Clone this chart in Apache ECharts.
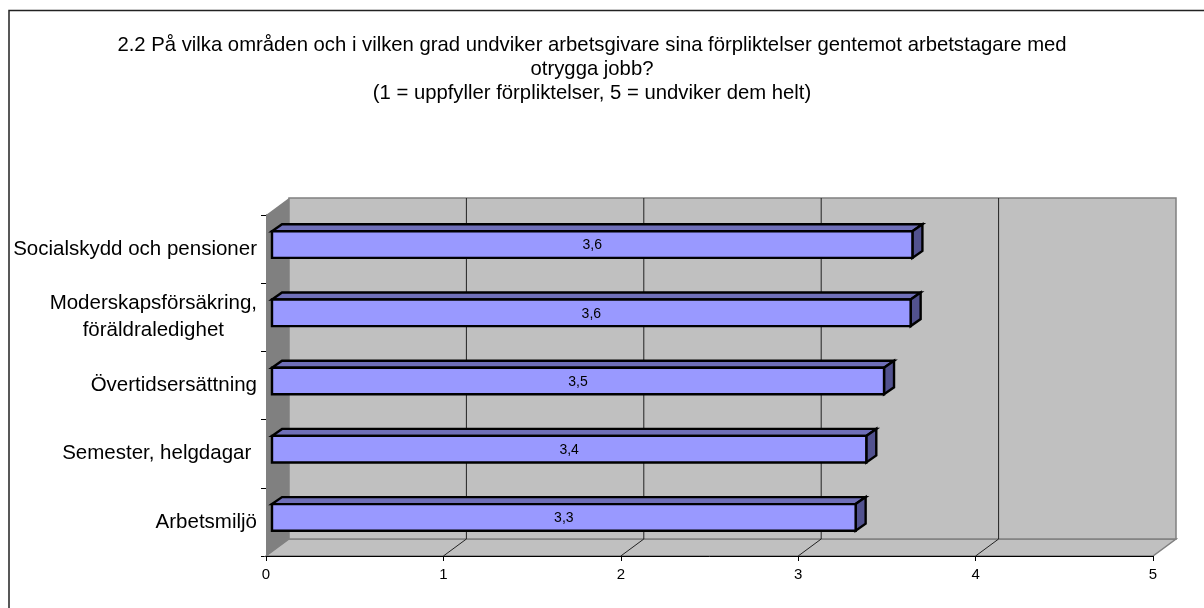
<!DOCTYPE html>
<html>
<head>
<meta charset="utf-8">
<style>
html, body { margin: 0; padding: 0; background: #fff; }
#main { width: 1204px; height: 608px; }
</style>
<script src="https://cdn.jsdelivr.net/npm/echarts@6/dist/echarts.min.js"></script>
</head>
<body>
<div id="main"></div>
<script>
var chartTitle = '2.2 På vilka områden och i vilken grad undviker arbetsgivare sina förpliktelser gentemot arbetstagare med\notrygga jobb?\n(1 = uppfyller förpliktelser, 5 = undviker dem helt)';
var categories = ['Socialskydd och pensioner', 'Moderskapsförsäkring,\nföräldraledighet', 'Övertidsersättning', 'Semester, helgdagar ', 'Arbetsmiljö'];
var values = [3.61, 3.6, 3.45, 3.35, 3.29];
var valueLabels = ['3,6', '3,6', '3,5', '3,4', '3,3'];
var xTicks = [0, 1, 2, 3, 4, 5];

// the 3d look: pixel depth of the box and of the bars
var depthX = 23, depthY = -17;
var barInX = 6, barInY = -4.5, barDX = 10, barDY = -7;
var fontName = '"Liberation Sans", Arial, sans-serif';

var myChart = echarts.init(document.getElementById('main'), null, { width: 1204, height: 608 });

function renderBox(params, api) {
    var c = params.coordSys;
    var b = c.y + c.height, r = c.x + c.width;
    return {
        type: 'group',
        children: [
            { type: 'polygon', shape: { points: [[c.x, b], [c.x + depthX, b + depthY], [r + depthX, b + depthY], [r, b]] },
              style: { fill: '#C0C0C0', stroke: '#808080', lineWidth: 1.5 } },
            { type: 'rect', shape: { x: c.x + depthX, y: c.y + depthY, width: c.width, height: c.height },
              style: { fill: '#C0C0C0', stroke: '#808080', lineWidth: 1.5 } },
            { type: 'polygon', shape: { points: [[c.x, c.y], [c.x + depthX, c.y + depthY], [c.x + depthX, b + depthY], [c.x, b]] },
              style: { fill: '#808080' } }
        ]
    };
}

function renderGridLine(params, api) {
    var c = params.coordSys;
    var x = api.coord([api.value(0), 0])[0];
    var b = c.y + c.height;
    return {
        type: 'polyline',
        shape: { points: [[x + depthX, c.y + depthY], [x + depthX, b + depthY], [x, b]] },
        style: { stroke: '#222', lineWidth: 1, fill: 'none' }
    };
}

function renderBar(params, api) {
    var i = api.value(1);
    var p0 = api.coord([0, i]);
    var p1 = api.coord([api.value(0), i]);
    var h = api.size([0, 1])[1] * 0.39;
    var l = p0[0] + barInX, r = p1[0] + barInX;
    var t = p0[1] + barInY - h / 2, b = t + h;
    var line = { stroke: '#000', lineWidth: 2.4, lineJoin: 'miter' };
    return {
        type: 'group',
        children: [
            { type: 'polygon', shape: { points: [[l, t], [l + barDX, t + barDY], [r + barDX, t + barDY], [r, t]] },
              style: Object.assign({ fill: '#6F6FB8' }, line) },
            { type: 'polygon', shape: { points: [[r, t], [r + barDX, t + barDY], [r + barDX, b + barDY], [r, b]] },
              style: Object.assign({ fill: '#52528F' }, line) },
            { type: 'rect', shape: { x: l, y: t, width: r - l, height: h },
              style: Object.assign({ fill: '#9999FF' }, line) },
            { type: 'text', style: { x: (l + r) / 2, y: (t + b) / 2 + 1, text: valueLabels[i], fill: '#000',
              font: '14px ' + fontName, align: 'center', verticalAlign: 'middle' } }
        ]
    };
}

var option = {
    animation: false,
    title: {
        text: chartTitle,
        left: 587,
        top: 28.5,
        textAlign: 'center',
        textStyle: { fontFamily: fontName, fontSize: 20.3, fontWeight: 'normal', color: '#000', lineHeight: 24 }
    },
    graphic: [{
        type: 'rect', silent: true, z: -1,
        shape: { x: 9, y: 10.5, width: 1300, height: 700 },
        style: { fill: '#fff', stroke: '#222', lineWidth: 1.5 }
    }],
    grid: { left: 266, top: 215, width: 887, height: 341 },
    xAxis: {
        type: 'value', min: 0, max: 5, interval: 1,
        splitLine: { show: false },
        axisLine: { show: true, lineStyle: { color: '#000', width: 1 } },
        axisTick: { show: true, length: 5, lineStyle: { color: '#000' } },
        axisLabel: { color: '#000', fontFamily: fontName, fontSize: 15, margin: 11 },
        z: 10
    },
    yAxis: {
        type: 'category', inverse: true, data: categories,
        axisLine: { show: true, lineStyle: { color: '#000', width: 1 } },
        axisTick: { show: true, length: 5, lineStyle: { color: '#000' } },
        axisLabel: {
            margin: 9,
            formatter: function (name) {
                return name.split('\n').map(function (s) { return '{c|' + s + '}'; }).join('\n');
            },
            rich: { c: { color: '#000', fontFamily: fontName, fontSize: 20.5, lineHeight: 27, align: 'center' } }
        }
    },
    series: [
        { type: 'custom', coordinateSystem: 'cartesian2d', renderItem: renderBox, data: [[0, 0]], silent: true, z: 1 },
        { type: 'custom', coordinateSystem: 'cartesian2d', renderItem: renderGridLine, data: xTicks.slice(1, 5).map(function (v) { return [v, 0]; }), silent: true, z: 2 },
        { type: 'custom', coordinateSystem: 'cartesian2d', renderItem: renderBar, data: values.map(function (v, i) { return [v, i]; }), z: 3 }
    ]
};

myChart.setOption(option);
</script>
</body>
</html>
